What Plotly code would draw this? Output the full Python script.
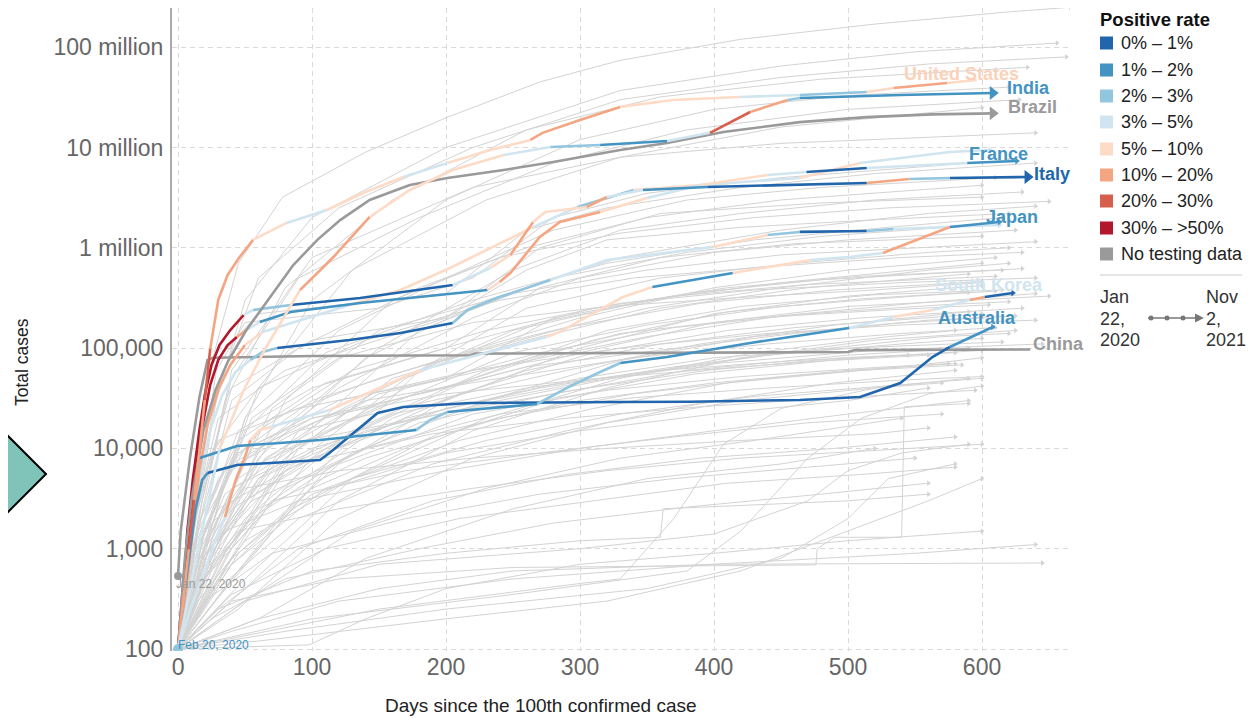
import math
import plotly.graph_objects as go

FONT = "Liberation Sans, Arial, sans-serif"

RATE_LABELS = ["0% \u2013 1%", "1% \u2013 2%", "2% \u2013 3%", "3% \u2013 5%", "5% \u2013 10%",
               "10% \u2013 20%", "20% \u2013 30%", "30% \u2013 >50%", "No testing data"]
RATE_COLORS = ["#2166ac", "#4393c3", "#92c5de", "#d1e5f0", "#fddbc7",
               "#f4a582", "#d6604d", "#b2182b", "#9a9a9a"]

X_TICKS = [0, 100, 200, 300, 400, 500, 600]
Y_TICKS = [100, 1e3, 1e4, 1e5, 1e6, 1e7, 1e8]
Y_TICK_TEXT = ["100", "1,000", "10,000", "100,000", "1 million", "10 million", "100 million"]

# ---- highlighted countries: days since 100th case, total cases, positive-rate class per segment
US_DAYS = [0, 4, 8, 12, 16, 20, 24, 30, 37, 46, 56, 81, 111, 140, 168, 201, 233, 263, 272, 300, 330, 369, 419, 464, 514, 534, 574, 596]
US_CASES = [100, 310, 990, 3060, 9860, 30400, 98000, 302000, 536000, 809000, 1.20e6, 1.77e6, 2.38e6, 3.60e6, 5.08e6, 7.00e6, 9.44e6, 11.9e6, 14.0e6, 18.8e6, 25.4e6, 29.8e6, 31.9e6, 33.4e6, 35.7e6, 39.2e6, 44.0e6, 47.1e6]
US_RATE = [5, 5, 6, 5, 5, 6, 5, 5, 5, 5, 4, 3, 4, 4, 3, 4, 4, 5, 5, 5, 4, 4, 3, 2, 4, 5, 4]

IN_DAYS = [0, 15, 31, 49, 65, 91, 116, 143, 173, 205, 243, 278, 315, 365, 397, 427, 455, 464, 539, 608]
IN_CASES = [100, 1000, 9860, 38200, 98000, 379000, 809000, 2.03e6, 3.77e6, 5.97e6, 8.41e6, 10.1e6, 10.6e6, 11.6e6, 14.0e6, 22.6e6, 29.8e6, 31.2e6, 33.4e6, 34.9e6]
IN_RATE = [3, 3, 4, 4, 4, 5, 5, 4, 4, 4, 3, 2, 1, 3, 6, 5, 2, 1, 1]

BR_DAYS = [0, 5, 10, 19, 28, 37, 51, 69, 86, 104, 121, 143, 173, 201, 243, 280, 330, 365, 407, 464, 514, 563, 608]
BR_CASES = [100, 771, 3060, 15250, 38200, 72600, 151400, 322800, 673000, 1.20e6, 1.89e6, 3.00e6, 4.23e6, 4.97e6, 5.97e6, 7.17e6, 9.44e6, 11.1e6, 14.3e6, 17.9e6, 20.1e6, 21.4e6, 21.9e6]
BR_RATE = [8, 8, 8, 8, 8, 8, 8, 8, 8, 8, 8, 8, 8, 8, 8, 8, 8, 8, 8, 8, 8, 8]

CN_DAYS = [0, 2, 9, 16, 22, 26, 100, 218, 222, 500, 505, 636]
CN_CASES = [535, 1500, 8200, 32500, 76000, 80000, 83500, 85000, 88000, 91500, 95500, 97000]
CN_RATE = [8, 8, 8, 8, 8, 8, 8, 8, 8, 8, 8]

IT_DAYS = [0, 4, 7, 11, 16, 20, 25, 31, 39, 49, 56, 84, 136, 205, 218, 233, 248, 265, 274, 305, 320, 347, 395, 457, 514, 546, 576, 634]
IT_CASES = [100, 387, 1536, 4840, 15250, 34070, 67900, 107400, 151400, 213800, 239900, 269200, 316200, 425600, 511700, 629500, 847300, 1.81e6, 2.28e6, 2.55e6, 3.21e6, 3.77e6, 4.04e6, 4.23e6, 4.43e6, 4.85e6, 4.97e6, 5.08e6]
IT_RATE = [7, 7, 7, 7, 7, 7, 7, 7, 7, 3, 2, 0, 0, 3, 3, 4, 5, 4, 4, 5, 3, 1, 0, 0, 5, 2, 0]

FR_DAYS = [0, 4, 9, 13, 19, 24, 30, 37, 44, 51, 61, 84, 136, 181, 231, 240, 248, 270, 285, 315, 350, 390, 440, 469, 514, 589, 626]
FR_CASES = [100, 488, 1932, 6090, 19190, 42860, 76030, 107400, 129100, 151400, 182000, 229100, 281800, 322800, 379300, 456000, 561000, 1.28e6, 1.81e6, 2.28e6, 3.14e6, 4.23e6, 5.32e6, 5.70e6, 6.25e6, 7.00e6, 7.33e6]
FR_RATE = [7, 7, 7, 7, 7, 7, 7, 7, 5, 3, 1, 1, 1, 1, 4, 5, 5, 5, 5, 4, 3, 4, 3, 0, 3, 1]

JP_DAYS = [0, 9, 20, 28, 35, 43, 50, 54, 61, 69, 113, 168, 181, 275, 285, 332, 354, 414, 472, 501, 526, 576, 613]
JP_CASES = [100, 245, 614, 1222, 2070, 4840, 8210, 12130, 15250, 16340, 24150, 50350, 60530, 129100, 144900, 322800, 406400, 561000, 755100, 809100, 887300, 1.61e6, 1.81e6]
JP_RATE = [3, 3, 3, 3, 5, 5, 5, 4, 4, 3, 4, 4, 3, 4, 4, 4, 1, 4, 3, 3, 5, 1]

OA_DAYS = [0, 5, 10, 16, 24, 33, 43, 54, 63, 74, 128, 166, 205, 216, 240, 278, 320, 399, 440, 464, 514, 534, 613]
OA_CASES = [100, 387, 1536, 4840, 15250, 34070, 57810, 76030, 91410, 100200, 120500, 141600, 177800, 239900, 322800, 477500, 755100, 1.02e6, 1.34e6, 1.44e6, 1.47e6, 1.54e6, 1.69e6]
OA_RATE = [3, 3, 3, 3, 3, 3, 3, 2, 2, 0, 0, 0, 2, 2, 2, 3, 3, 4, 2, 0, 2, 3]

OB_DAYS = [0, 6, 11, 16, 22, 30, 39, 50, 63, 91, 128, 166, 203, 235, 265, 298, 340, 390, 464, 509, 576, 606]
OB_CASES = [100, 387, 1536, 6090, 17110, 38190, 67920, 107400, 144900, 190500, 269200, 379300, 629500, 1.02e6, 1.61e6, 2.55e6, 3.77e6, 4.23e6, 4.97e6, 7.00e6, 9.02e6, 9.44e6]
OB_RATE = [5, 5, 5, 5, 5, 5, 5, 4, 3, 3, 4, 4, 4, 4, 3, 2, 4, 3, 4, 3, 3]

KR_DAYS = [0, 4, 7, 12, 16, 44, 76, 106, 178, 188, 201, 268, 281, 293, 315, 330, 365, 427, 501, 534, 563, 591, 602, 623]
KR_CASES = [100, 308, 1222, 3848, 8020, 10570, 11320, 12130, 15250, 19190, 23070, 27730, 34070, 41880, 57810, 70960, 81470, 112500, 158500, 204200, 239900, 302000, 322800, 354000]
KR_RATE = [2, 2, 2, 2, 1, 1, 1, 1, 2, 2, 1, 2, 2, 2, 2, 1, 1, 1, 3, 4, 3, 5, 0]

AU_DAYS = [0, 4, 9, 13, 18, 22, 44, 106, 113, 131, 149, 168, 218, 330, 382, 464, 509, 539, 563, 576, 608]
AU_CASES = [100, 308, 971, 2432, 4840, 5690, 6840, 7660, 9000, 14250, 22540, 25880, 28380, 29040, 29200, 30410, 32540, 44880, 81470, 102600, 162200]
AU_RATE = [1, 1, 1, 1, 1, 0, 0, 0, 0, 0, 0, 0, 0, 0, 0, 0, 0, 0, 0, 1]

# ---- background countries (day, total cases), read approximately
GREY_TOP = [
    [(0, 100), (8, 1500), (20, 40000), (45, 700000), (78, 3.2e6), (140, 9e6), (201, 20e6), (270, 45e6), (330, 74e6), (420, 120e6), (520, 170e6), (620, 225e6), (666, 250e6)],
    [(0, 100), (10, 1200), (25, 20000), (50, 300000), (100, 2e6), (200, 10e6), (330, 37e6), (450, 65e6), (550, 90e6), (656, 110e6)],
    [(0, 100), (12, 1500), (30, 40000), (60, 500000), (120, 2.5e6), (220, 10e6), (330, 30e6), (450, 50e6), (560, 68e6), (663, 80e6)],
    [(0, 100), (15, 2000), (35, 30000), (80, 400000), (160, 3e6), (260, 15e6), (360, 32e6), (480, 48e6), (634, 63e6)],
    [(0, 100), (20, 1000), (50, 20000), (100, 300000), (200, 3e6), (300, 12e6), (400, 24e6), (500, 33e6), (620, 40e6)],
    [(0, 100), (18, 3000), (40, 50000), (90, 500000), (180, 2e6), (280, 7e6), (380, 15e6), (500, 24e6), (628, 30e6)],
    [(0, 100), (25, 2000), (60, 40000), (130, 600000), (230, 3e6), (330, 8e6), (450, 16e6), (600, 25e6)],
    [(0, 100), (15, 1500), (40, 60000), (100, 800000), (220, 4e6), (330, 8e6), (450, 11e6), (640, 14e6)],
]
GREY_MID = [
    [(0, 100), (10, 3000), (25, 50000), (50, 180000), (150, 250000), (220, 500000), (280, 2e6), (350, 3.5e6), (450, 5e6), (620, 7.5e6)],
    [(0, 100), (12, 2000), (30, 80000), (60, 220000), (200, 350000), (260, 1.5e6), (320, 2.5e6), (420, 4e6), (520, 5.5e6), (640, 7e6)],
    [(0, 100), (20, 1000), (50, 20000), (120, 150000), (200, 500000), (280, 1.5e6), (380, 3e6), (480, 4e6), (610, 5e6)],
    [(0, 100), (15, 1500), (40, 30000), (90, 100000), (180, 400000), (260, 1e6), (350, 2e6), (450, 3e6), (600, 4.2e6)],
    [(0, 100), (25, 800), (60, 10000), (150, 100000), (250, 600000), (330, 1.5e6), (420, 2.2e6), (520, 3e6), (630, 3.6e6)],
    [(0, 100), (10, 1500), (30, 20000), (80, 60000), (200, 200000), (270, 1e6), (360, 2.2e6), (480, 2.8e6), (600, 3.2e6)],
    [(0, 100), (30, 1500), (80, 30000), (160, 300000), (240, 800000), (330, 1.4e6), (430, 2e6), (530, 2.5e6), (650, 2.9e6)],
    [(0, 100), (20, 600), (60, 8000), (140, 80000), (230, 300000), (330, 800000), (450, 1.5e6), (560, 2.2e6), (640, 2.6e6)],
    [(0, 100), (15, 3000), (40, 40000), (100, 120000), (200, 200000), (260, 600000), (320, 1.2e6), (420, 1.6e6), (520, 1.9e6), (620, 2.2e6)],
    [(0, 100), (18, 1200), (50, 15000), (110, 90000), (220, 300000), (320, 700000), (430, 1.2e6), (530, 1.6e6), (615, 2e6)],
    [(0, 100), (35, 800), (90, 12000), (180, 150000), (280, 500000), (380, 900000), (480, 1.3e6), (600, 1.7e6)],
    [(0, 100), (12, 800), (40, 6000), (120, 40000), (220, 200000), (300, 500000), (400, 900000), (500, 1.2e6), (625, 1.5e6)],
    [(0, 100), (20, 2000), (45, 15000), (100, 40000), (200, 100000), (270, 400000), (360, 800000), (460, 1.1e6), (600, 1.3e6)],
    [(0, 100), (25, 1500), (70, 25000), (150, 150000), (250, 350000), (350, 600000), (450, 850000), (550, 1e6), (640, 1.15e6)],
    [(0, 100), (40, 500), (100, 5000), (180, 60000), (260, 250000), (360, 500000), (460, 700000), (560, 900000), (620, 1e6)],
]
GREY_N = [
    [(0, 100), (15, 1000), (40, 8000), (100, 30000), (200, 80000), (300, 200000), (400, 400000), (500, 600000), (610, 800000)],
    [(0, 100), (20, 500), (60, 5000), (150, 40000), (250, 150000), (350, 300000), (450, 450000), (600, 700000)],
    [(0, 100), (10, 1500), (30, 12000), (90, 25000), (200, 50000), (280, 200000), (380, 350000), (480, 480000), (630, 620000)],
    [(0, 100), (30, 700), (80, 8000), (160, 50000), (260, 120000), (360, 250000), (470, 400000), (590, 550000)],
    [(0, 100), (25, 1200), (60, 15000), (130, 60000), (230, 150000), (330, 280000), (430, 380000), (540, 450000), (640, 500000)],
    [(0, 100), (45, 600), (110, 6000), (200, 30000), (300, 100000), (400, 220000), (500, 330000), (600, 420000)],
    [(0, 100), (15, 700), (50, 3000), (120, 12000), (220, 50000), (320, 150000), (420, 260000), (520, 340000), (615, 380000)],
    [(0, 100), (20, 2000), (50, 10000), (100, 20000), (200, 40000), (300, 90000), (400, 180000), (500, 260000), (650, 330000)],
    [(0, 100), (35, 900), (90, 10000), (170, 40000), (270, 90000), (370, 160000), (470, 220000), (570, 270000), (620, 290000)],
    [(0, 100), (10, 500), (40, 2500), (110, 9000), (210, 35000), (310, 90000), (410, 150000), (510, 200000), (630, 250000)],
    [(0, 100), (25, 400), (70, 3000), (160, 20000), (260, 60000), (360, 110000), (460, 160000), (560, 200000), (600, 220000)],
    [(0, 100), (15, 1000), (45, 9000), (120, 30000), (220, 60000), (330, 100000), (440, 140000), (540, 170000), (640, 190000)],
    [(0, 100), (30, 2000), (70, 12000), (140, 30000), (240, 50000), (340, 80000), (440, 110000), (540, 140000), (610, 160000)],
    [(0, 100), (50, 400), (120, 3000), (220, 15000), (320, 40000), (420, 80000), (520, 120000), (625, 150000)],
    [(0, 100), (20, 800), (60, 5000), (140, 15000), (240, 30000), (340, 55000), (440, 85000), (540, 110000), (600, 125000)],
    [(0, 100), (12, 600), (40, 4000), (100, 10000), (200, 25000), (300, 50000), (400, 80000), (500, 100000), (615, 115000)],
    [(0, 100), (40, 1000), (100, 8000), (200, 25000), (300, 45000), (400, 70000), (520, 95000), (645, 110000)],
    [(0, 100), (25, 600), (80, 4000), (180, 18000), (280, 35000), (380, 60000), (500, 85000), (590, 100000)],
    [(0, 100), (10, 800), (30, 5000), (70, 20000), (150, 50000), (250, 120000), (350, 250000), (450, 400000), (560, 600000), (620, 700000)],
    [(0, 100), (8, 1000), (25, 9000), (60, 40000), (140, 120000), (240, 300000), (340, 500000), (440, 650000), (540, 800000), (630, 900000)],
    [(0, 100), (20, 1500), (55, 20000), (120, 80000), (220, 180000), (320, 260000), (420, 320000), (520, 380000), (600, 450000)],
    [(0, 100), (30, 500), (80, 6000), (170, 50000), (270, 180000), (370, 330000), (470, 430000), (610, 520000)],
    [(0, 100), (15, 400), (50, 2000), (130, 15000), (230, 60000), (330, 140000), (430, 200000), (530, 240000), (605, 270000)],
    [(0, 100), (22, 900), (65, 8000), (150, 35000), (250, 70000), (350, 130000), (450, 210000), (550, 280000), (640, 350000)],
    [(0, 100), (12, 1200), (35, 6000), (90, 15000), (190, 30000), (290, 60000), (390, 110000), (490, 170000), (590, 230000)],
]
GREY_EXTRA = [
    [(0, 100), (14, 700), (45, 5000), (110, 20000), (210, 45000), (310, 120000), (410, 230000), (510, 310000), (590, 360000)],
    [(0, 100), (25, 900), (75, 9000), (160, 30000), (260, 65000), (360, 95000), (460, 140000), (560, 190000), (625, 210000)],
    [(0, 100), (18, 500), (55, 2000), (130, 9000), (230, 30000), (330, 75000), (430, 130000), (530, 175000), (600, 200000)],
    [(0, 100), (30, 1200), (80, 6000), (170, 20000), (270, 40000), (370, 65000), (470, 95000), (570, 130000), (620, 140000)],
    [(0, 100), (10, 600), (35, 3500), (95, 12000), (195, 22000), (295, 38000), (395, 60000), (495, 80000), (580, 90000)],
    [(0, 100), (20, 1000), (60, 7000), (150, 25000), (250, 90000), (350, 170000), (450, 260000), (550, 330000), (610, 370000)],
    [(0, 100), (40, 700), (110, 4000), (210, 12000), (310, 25000), (410, 45000), (510, 60000), (585, 68000)],
    [(0, 100), (12, 900), (40, 7000), (100, 20000), (200, 35000), (300, 48000), (400, 62000), (500, 78000), (600, 95000)],
    [(0, 100), (28, 300), (85, 2500), (185, 12000), (285, 32000), (385, 55000), (485, 75000), (560, 85000)],
    [(0, 100), (15, 1800), (45, 12000), (110, 45000), (210, 110000), (310, 250000), (410, 400000), (510, 520000), (615, 600000)],
    [(0, 100), (35, 1500), (90, 15000), (190, 70000), (290, 160000), (390, 280000), (490, 380000), (600, 460000)],
    [(0, 100), (22, 700), (70, 6000), (160, 22000), (260, 40000), (360, 60000), (460, 75000), (545, 85000)],
    [(0, 100), (50, 500), (130, 5000), (230, 20000), (330, 50000), (430, 90000), (530, 130000), (580, 150000)],
    [(0, 100), (8, 400), (30, 2500), (90, 7000), (190, 14000), (290, 20000), (390, 26000), (490, 32000), (595, 38000)],
    [(0, 100), (45, 900), (120, 7000), (220, 22000), (320, 38000), (420, 52000), (520, 64000), (575, 70000)],
]
GREY_P = [
    [(0, 100), (20, 500), (60, 2500), (140, 8000), (240, 20000), (340, 35000), (440, 50000), (540, 65000), (600, 80000)],
    [(0, 100), (30, 400), (90, 2000), (190, 7000), (290, 15000), (390, 28000), (490, 45000), (580, 60000)],
    [(0, 100), (15, 300), (50, 1200), (130, 5000), (230, 12000), (330, 22000), (430, 33000), (530, 42000), (600, 50000)],
    [(0, 100), (40, 800), (100, 3500), (200, 9000), (300, 15000), (400, 22000), (500, 30000), (560, 40000)],
    [(0, 100), (10, 400), (35, 1500), (90, 3000), (200, 6000), (300, 10000), (400, 15000), (500, 22000), (590, 30000)],
    [(0, 100), (25, 700), (70, 3000), (170, 6000), (270, 9000), (370, 13000), (470, 18000), (570, 22000)],
    [(0, 100), (50, 300), (130, 1500), (230, 4000), (330, 8000), (430, 12000), (540, 20000)],
    [(0, 100), (20, 1500), (50, 4000), (120, 6000), (220, 8000), (320, 10000), (420, 12000), (520, 14000), (560, 16000)],
    [(0, 100), (30, 250), (90, 1000), (190, 3000), (290, 5500), (390, 8000), (490, 10000), (580, 13000)],
    [(0, 100), (15, 500), (45, 1500), (120, 2500), (220, 4000), (320, 6000), (420, 8000), (520, 9500), (600, 11000)],
    [(0, 100), (60, 200), (140, 800), (250, 2500), (350, 5000), (450, 7000), (520, 10000)],
    [(0, 100), (20, 300), (70, 900), (170, 2000), (270, 3500), (370, 5000), (470, 6500), (550, 8000)],
    [(0, 100), (40, 350), (110, 1000), (210, 2000), (310, 3000), (410, 4500), (510, 5500), (580, 6500)],
    [(0, 100), (25, 200), (80, 500), (180, 1000), (280, 1800), (380, 2600), (480, 3500), (560, 4500)],
    [(0, 100), (35, 600), (100, 4000), (200, 15000), (300, 30000), (400, 45000), (500, 60000), (580, 70000)],
    [(0, 100), (18, 800), (55, 3000), (140, 10000), (240, 22000), (340, 32000), (440, 40000), (540, 48000), (600, 52000)],
    [(0, 100), (45, 250), (120, 2000), (220, 8000), (320, 18000), (420, 30000), (520, 40000), (570, 45000)],
]
GREY_LOW = [
    [(0, 100), (40, 150), (120, 300), (250, 500), (400, 700), (550, 900), (640, 1100)],
    [(0, 100), (60, 120), (200, 200), (320, 300), (420, 600), (500, 1500), (560, 3000), (600, 5000)],
    [(0, 100), (30, 250), (100, 600), (200, 900), (300, 1200), (360, 1300), (362, 2500), (500, 3000), (560, 3500)],
    [(0, 100), (60, 200), (150, 400), (250, 600), (400, 700), (645, 720)],
    [(0, 100), (40, 300), (120, 500), (250, 650), (476, 690), (477, 1000), (490, 1300), (540, 1300), (542, 26000), (590, 28000)],
    [(0, 100), (98, 110), (140, 200), (200, 400), (300, 700), (400, 900), (500, 1200), (600, 1500)],
]
GREY_LATE = [
    [(0, 100), (150, 250), (300, 450), (330, 500), (370, 2000), (407, 11000), (450, 25000), (520, 40000), (590, 50000)],
    [(0, 100), (100, 200), (250, 350), (380, 600), (420, 1500), (470, 8000), (510, 20000), (560, 35000), (600, 42000)],
    [(0, 100), (50, 300), (150, 700), (300, 1000), (400, 1400), (470, 3000), (500, 6000), (540, 9000), (590, 11000)],
    [(0, 100), (80, 150), (200, 250), (350, 400), (450, 800), (500, 2000), (530, 5000), (580, 7000)],
]

# ---- text labels: (text, day, cases, colour, x-anchor)
LABELS = [
    ("United States", 585, 54e6, "#fbd1b9", "center"),
    ("India", 618, 39e6, RATE_COLORS[1], "left"),
    ("Brazil", 619, 25.4e6, RATE_COLORS[8], "left"),
    ("France", 612, 8.6e6, RATE_COLORS[1], "center"),
    ("Italy", 638, 5.45e6, RATE_COLORS[0], "left"),
    ("Japan", 622, 2.03e6, RATE_COLORS[1], "center"),
    ("South Korea", 605, 426000, RATE_COLORS[3], "center"),
    ("Australia", 596, 200000, RATE_COLORS[1], "center"),
    ("China", 637, 110000, RATE_COLORS[8], "left"),
]

# ---- geometry (page pixels); the page body adds an 8px offset to the figure
OFF = 8
PAGE_W, PAGE_H = 1254, 718
PL, PR, PT, PB = 172, 1070, 8, 651
PX_PER_DAY = 1.34
PX_PER_DECADE = 100.3


def px(x):
    return (x - PL) / (PR - PL)


def py(y):
    return (PB - y) / (PB - PT)


fig = go.Figure()

# background lines
bx, by, ex, ey = [], [], [], []
for group in (GREY_TOP, GREY_MID, GREY_N, GREY_EXTRA, GREY_P, GREY_LOW, GREY_LATE):
    for path in group:
        for d, c in path:
            bx.append(d)
            by.append(c)
        bx.append(None)
        by.append(None)
        ex.append(path[-1][0])
        ey.append(path[-1][1])
fig.add_trace(go.Scatter(x=bx, y=by, mode="lines", line=dict(color="#d3d3d3", width=1),
                         hoverinfo="skip", showlegend=False))
fig.add_trace(go.Scatter(x=ex, y=ey, mode="markers",
                         marker=dict(symbol="triangle-right", size=5, color="#d3d3d3"),
                         hoverinfo="skip", showlegend=False))

COUNTRIES = [
    ("China", CN_DAYS, CN_CASES, CN_RATE, 0),
    ("Other A", OA_DAYS, OA_CASES, OA_RATE, 6),
    ("Other B", OB_DAYS, OB_CASES, OB_RATE, 6),
    ("Japan", JP_DAYS, JP_CASES, JP_RATE, 6),
    ("Australia", AU_DAYS, AU_CASES, AU_RATE, 6),
    ("South Korea", KR_DAYS, KR_CASES, KR_RATE, 6),
    ("France", FR_DAYS, FR_CASES, FR_RATE, 6),
    ("Italy", IT_DAYS, IT_CASES, IT_RATE, 12),
    ("Brazil", BR_DAYS, BR_CASES, BR_RATE, 12),
    ("United States", US_DAYS, US_CASES, US_RATE, 0),
    ("India", IN_DAYS, IN_CASES, IN_RATE, 12),
]

for name, days, cases, rate, arrow in COUNTRIES:
    i, n = 0, len(rate)
    while i < n:
        j = i
        while j + 1 < n and rate[j + 1] == rate[i]:
            j += 1
        fig.add_trace(go.Scatter(x=days[i:j + 2], y=cases[i:j + 2], mode="lines",
                                 line=dict(color=RATE_COLORS[rate[i]], width=2.6),
                                 name=name, hoverinfo="skip", showlegend=False))
        i = j + 1
    if arrow:
        fig.add_trace(go.Scatter(x=[days[-1]], y=[cases[-1]], mode="markers",
                                 marker=dict(symbol="triangle-right", size=arrow,
                                             color=RATE_COLORS[rate[-1]]),
                                 hoverinfo="skip", showlegend=False))

# start dots
fig.add_trace(go.Scatter(x=[CN_DAYS[0]], y=[CN_CASES[0]], mode="markers",
                         marker=dict(size=8, color=RATE_COLORS[8]), hoverinfo="skip", showlegend=False))
fig.add_trace(go.Scatter(x=[KR_DAYS[0]], y=[KR_CASES[0]], mode="markers",
                         marker=dict(size=10, color=RATE_COLORS[2]), hoverinfo="skip", showlegend=False))

ann = []
for text, d, c, col, anc in LABELS:
    ann.append(dict(x=d, y=math.log10(c), xref="x", yref="y", text=f"<b>{text}</b>",
                    showarrow=False, xanchor=anc, yanchor="middle", borderpad=0,
                    font=dict(size=18, color=col, family=FONT)))
ann.append(dict(x=px(174), y=py(584), xref="paper", yref="paper", text="Jan 22, 2020",
                showarrow=False, xanchor="left", yanchor="middle", font=dict(size=12, color="#9a9a9a")))
ann.append(dict(x=px(176), y=py(645), xref="paper", yref="paper", text="Feb 20, 2020",
                showarrow=False, xanchor="left", yanchor="middle", font=dict(size=12, color=RATE_COLORS[1])))

# axis titles
ann.append(dict(x=px(22), y=py(362), xref="paper", yref="paper", text="Total cases", textangle=-90,
                showarrow=False, xanchor="center", yanchor="middle", font=dict(size=17.5, color="#222")))
ann.append(dict(x=px(541), y=py(705), xref="paper", yref="paper", text="Days since the 100th confirmed case",
                showarrow=False, xanchor="center", yanchor="middle", font=dict(size=19, color="#222")))

# legend
LEG_FONT = 18
shapes = []
ann.append(dict(x=px(1099), y=py(19), xref="paper", yref="paper", text="<b>Positive rate</b>",
                showarrow=False, xanchor="left", yanchor="middle", borderpad=0,
                font=dict(size=18.5, color="#111")))
ROW_Y = [43, 70, 96, 122, 149, 175, 201, 228, 254]
for k, (lab, col) in enumerate(zip(RATE_LABELS, RATE_COLORS)):
    yc = ROW_Y[k]
    shapes.append(dict(type="rect", xref="paper", yref="paper", x0=px(1100), x1=px(1113),
                       y0=py(yc + 6.5), y1=py(yc - 6.5), fillcolor=col, line=dict(width=0)))
    ann.append(dict(x=px(1120), y=py(yc), xref="paper", yref="paper", text=lab, showarrow=False,
                    xanchor="left", yanchor="middle", borderpad=0,
                    font=dict(size=LEG_FONT, color="#222")))
shapes.append(dict(type="line", xref="paper", yref="paper", x0=px(1100), x1=px(1242),
                   y0=py(275), y1=py(275), line=dict(color="#cccccc", width=1)))
RANGE_START = ["Jan", "22,", "2020"]
RANGE_END = ["Nov", "2,", "2021"]
for k, (a, b) in enumerate(zip(RANGE_START, RANGE_END)):
    yk = 297 + 21.5 * k
    ann.append(dict(x=px(1099), y=py(yk), xref="paper", yref="paper", text=a, showarrow=False,
                    xanchor="left", yanchor="middle", borderpad=0, font=dict(size=LEG_FONT, color="#333")))
    ann.append(dict(x=px(1205), y=py(yk), xref="paper", yref="paper", text=b, showarrow=False,
                    xanchor="left", yanchor="middle", borderpad=0, font=dict(size=LEG_FONT, color="#333")))
shapes.append(dict(type="line", xref="paper", yref="paper", x0=px(1148), x1=px(1198),
                   y0=py(318), y1=py(318), line=dict(color="#777", width=1.5)))
for cx in (1151, 1167, 1183):
    shapes.append(dict(type="circle", xref="paper", yref="paper", x0=px(cx - 2.5), x1=px(cx + 2.5),
                       y0=py(320.5), y1=py(315.5), fillcolor="#777", line=dict(width=0)))
shapes.append(dict(type="path", xref="paper", yref="paper",
                   path=f"M {px(1195)},{py(313.5)} L {px(1204)},{py(318)} L {px(1195)},{py(322.5)} Z",
                   fillcolor="#777", line=dict(width=0)))

# decorative teal marker on the left edge
shapes.append(dict(type="path", xref="paper", yref="paper",
                   path=f"M {px(-46)},{py(474)} L {px(0)},{py(428)} L {px(46)},{py(474)} L {px(0)},{py(520)} Z",
                   fillcolor="#80c4b9", line=dict(color="black", width=2)))

y_bottom = 2 - (PB - 649) / PX_PER_DECADE
fig.update_layout(
    width=PAGE_W - OFF, height=PAGE_H - OFF,
    margin=dict(l=PL - OFF, r=PAGE_W - PR, t=PT - OFF, b=PAGE_H - PB, pad=0),
    plot_bgcolor="white", paper_bgcolor="white",
    showlegend=False,
    font=dict(family=FONT),
    annotations=ann, shapes=shapes,
    xaxis=dict(range=[-4.5, -4.5 + (PR - PL) / PX_PER_DAY], tickvals=X_TICKS, showgrid=True,
               gridcolor="#d9d9d9", griddash="5px,4px", gridwidth=1, zeroline=False, showline=False,
               ticks="", tickfont=dict(size=23, color="#666")),
    yaxis=dict(type="log", range=[y_bottom, y_bottom + (PB - PT) / PX_PER_DECADE], tickvals=Y_TICKS,
               ticktext=Y_TICK_TEXT, showgrid=True, gridcolor="#d9d9d9", griddash="5px,4px", gridwidth=1,
               zeroline=False, showline=True, linecolor="#aaaaaa", linewidth=2, ticks="",
               ticklabelstandoff=2, tickfont=dict(size=23, color="#666")),
)

fig.write_html("out.html")
